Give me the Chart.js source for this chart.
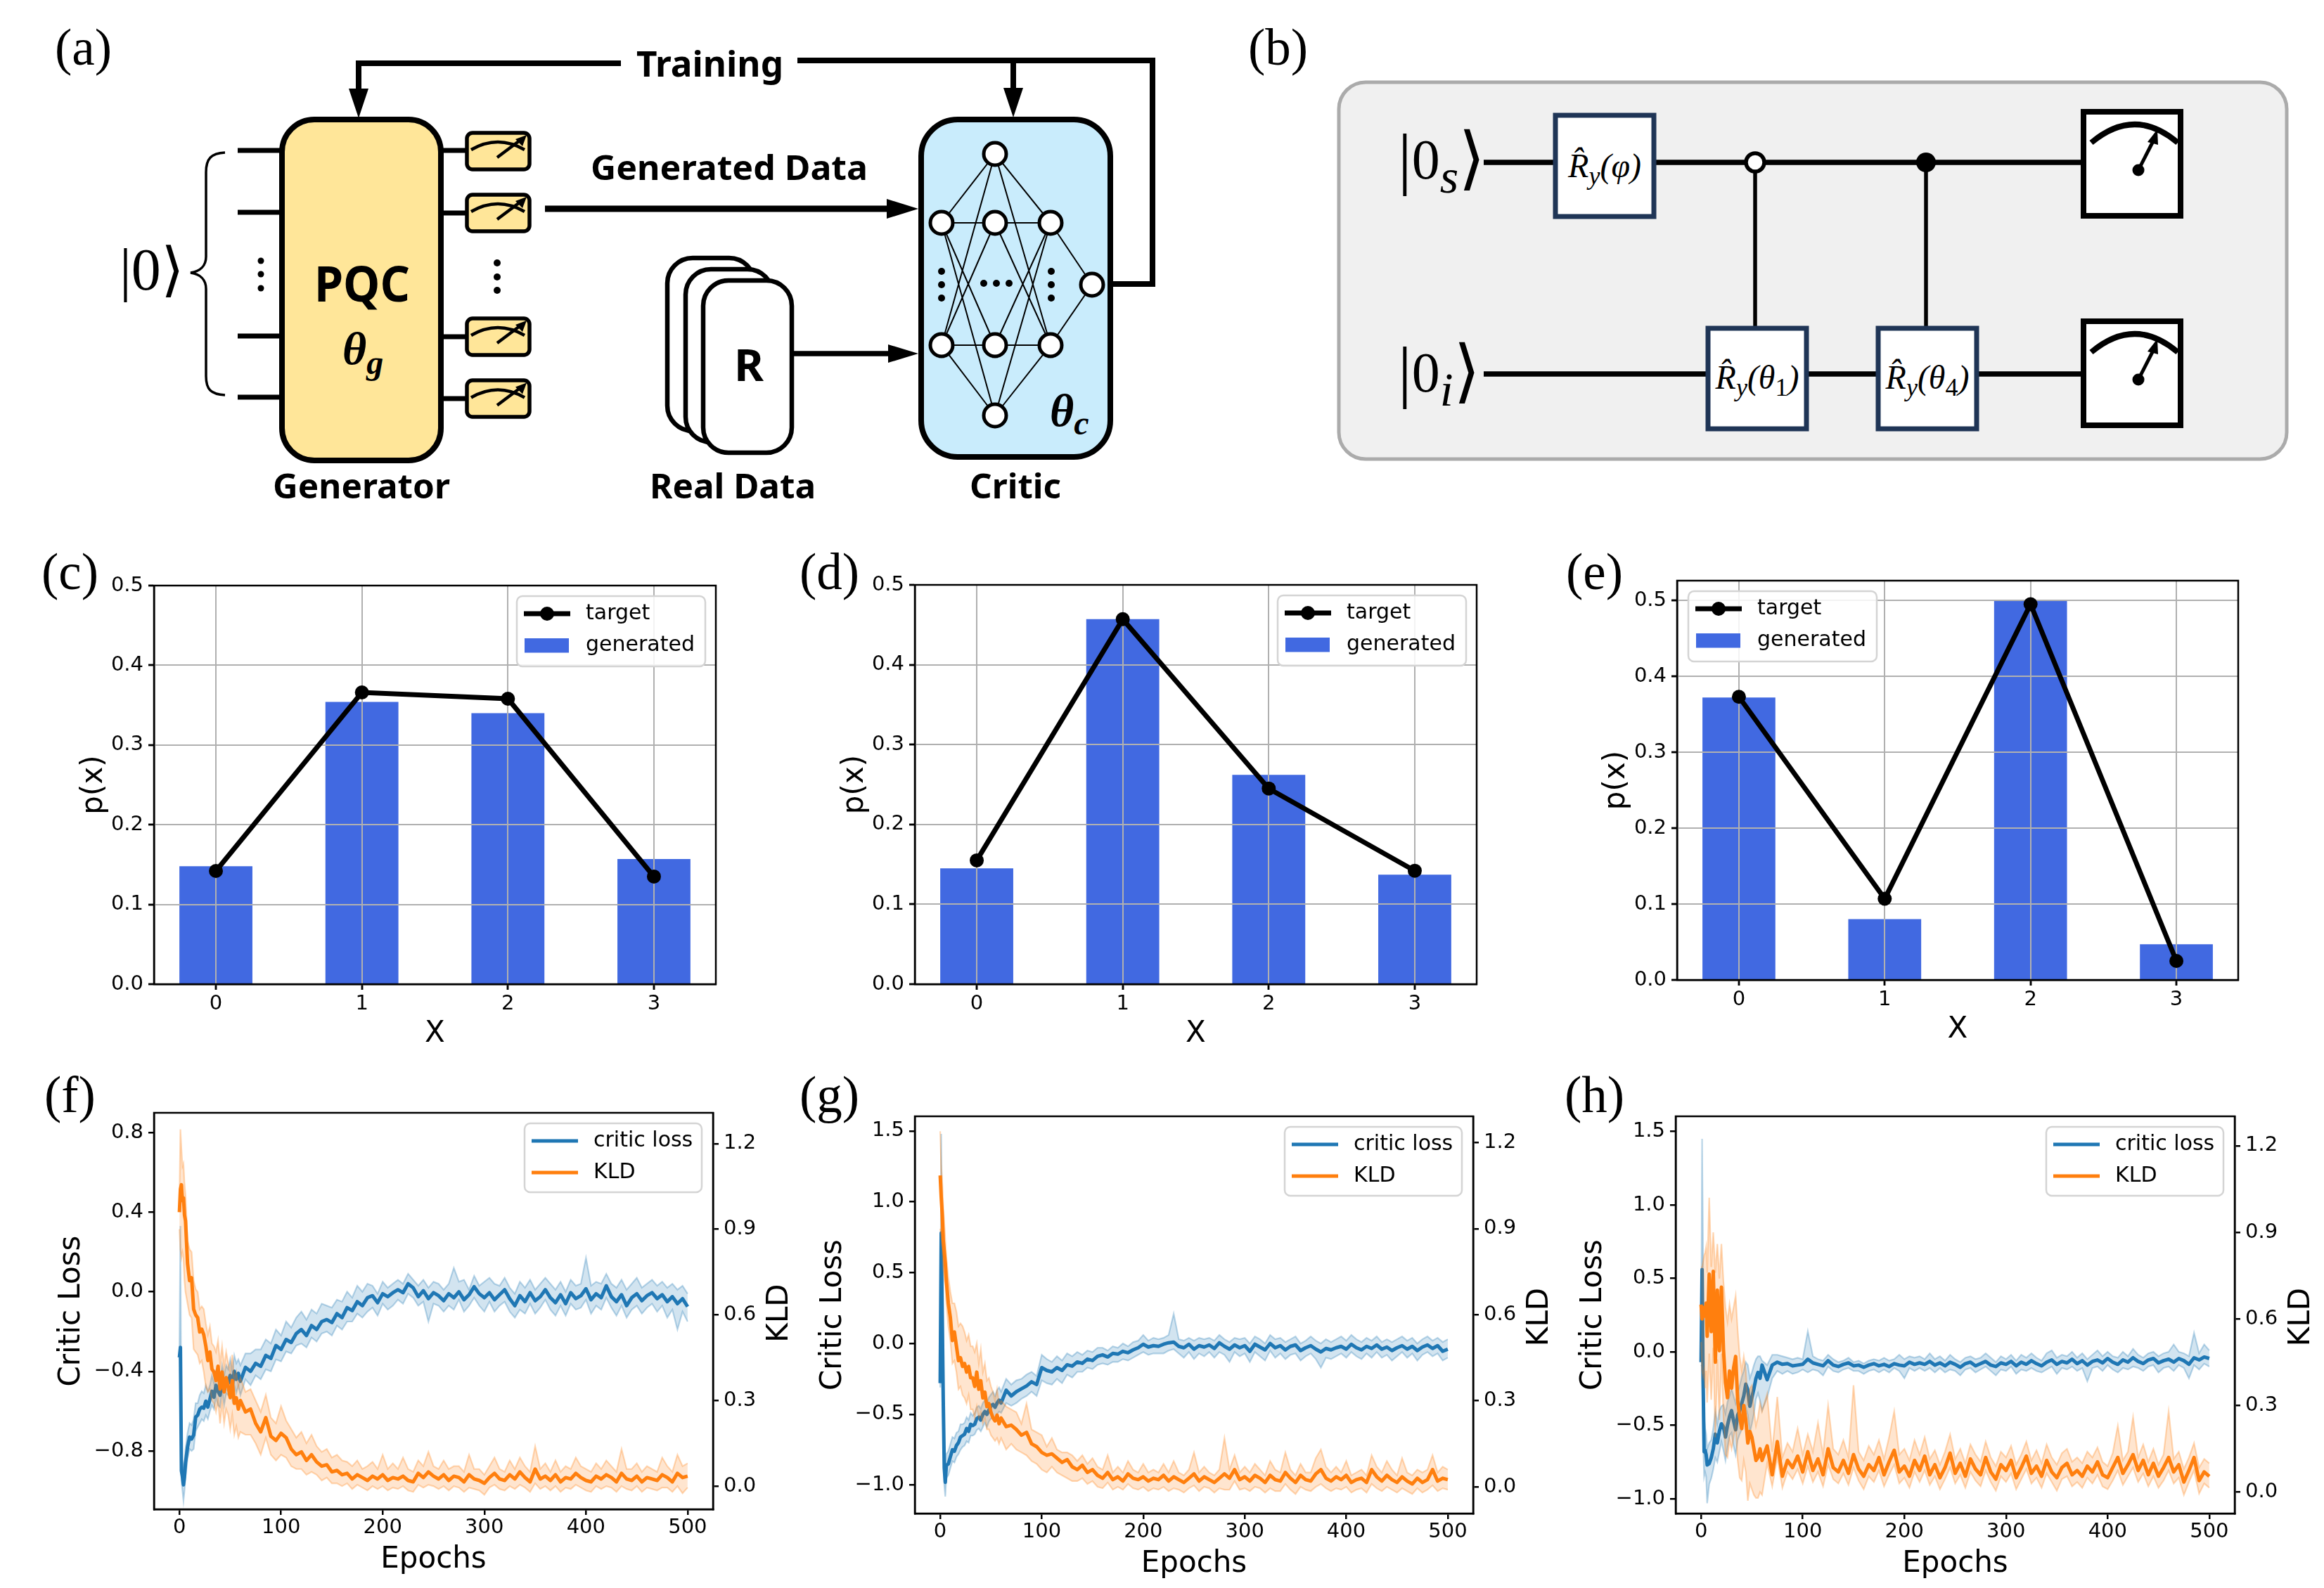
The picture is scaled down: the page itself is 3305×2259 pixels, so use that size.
<!DOCTYPE html>
<html>
<head>
<meta charset="utf-8">
<title>Quantum GAN figure</title>
<script src="https://cdn.jsdelivr.net/npm/chart.js@4/dist/chart.umd.js"></script>
<style>
html,body{margin:0;padding:0;background:#fff;}
#page{position:relative;width:3305px;height:2259px;overflow:hidden;background:#fff;}
canvas{position:absolute;}
svg{position:absolute;left:0;top:0;}
.lab{font-family:"Liberation Serif",serif;font-size:73px;fill:#000;}
.bold{font-family:"Noto Sans",sans-serif;font-weight:700;fill:#000;}
.gate{font-family:"Liberation Serif",serif;font-style:italic;font-size:48px;fill:#000;}
</style>
</head>
<body>
<div id="page">
<svg width="3305" height="2259" viewBox="0 0 3305 2259" xmlns="http://www.w3.org/2000/svg">
<defs>
<g id="mini"><path d="M670 213 Q708 191 746 213" fill="none" stroke="#000" stroke-width="4.5"/><path d="M707 224 L743 197" stroke="#000" stroke-width="4.5"/><path d="M749 192 L733 198 L743 208 Z" fill="#000"/></g>
<g id="big"><path d="M2974 203 Q3036 151 3097 203" fill="none" stroke="#000" stroke-width="8"/><path d="M3041 242 L3065 195" stroke="#000" stroke-width="5"/><path d="M3068 184 L3054 202 L3069 206 Z" fill="#000"/><circle cx="3041" cy="242" r="8.5" fill="#000"/></g>
</defs>
<text class="lab" x="78" y="92">(a)</text>
<text class="lab" x="1775" y="92">(b)</text>
<text class="lab" x="59" y="838">(c)</text>
<text class="lab" x="1137" y="838">(d)</text>
<text class="lab" x="2227" y="838">(e)</text>
<text class="lab" x="63" y="1582">(f)</text>
<text class="lab" x="1137" y="1582">(g)</text>
<text class="lab" x="2225" y="1582">(h)</text>

<!-- panel a -->
<path d="M883 90 H510 V135" fill="none" stroke="#000" stroke-width="8"/>
<path d="M510 168 L496 126 H524 Z" fill="#000"/>
<path d="M1134 86 H1639 V404 H1580" fill="none" stroke="#000" stroke-width="8"/>
<path d="M1441 86 V130" fill="none" stroke="#000" stroke-width="8"/>
<path d="M1441 167 L1427 125 H1455 Z" fill="#000"/>
<text class="bold" x="905" y="109" font-size="50" textLength="209" lengthAdjust="spacingAndGlyphs">Training</text>
<path d="M338 214 H405 M338 302 H405 M338 478 H405 M338 565 H405 M625 214 H665 M625 303 H665 M625 479 H665 M625 567 H665" stroke="#000" stroke-width="7"/>
<rect x="401" y="170" width="226" height="485" rx="46" fill="#FFE699" stroke="#000" stroke-width="8"/>
<path d="M320 217 C300 218 293 226 293 245 V365 C293 378 285 386 271 388 C285 390 293 398 293 411 V535 C293 554 300 561 320 562" fill="none" stroke="#000" stroke-width="3.5"/>
<text x="170" y="412" font-family="Liberation Serif" font-size="84" fill="#000">|0⟩</text>
<circle cx="371" cy="371" r="4.5"/><circle cx="371" cy="390" r="4.5"/><circle cx="371" cy="410" r="4.5"/>
<circle cx="707" cy="374" r="5"/><circle cx="707" cy="394" r="5"/><circle cx="707" cy="413" r="5"/>
<g fill="#FFE699" stroke="#000" stroke-width="5.5">
<rect x="664" y="189" width="89" height="52" rx="8"/>
<rect x="664" y="277" width="89" height="52" rx="8"/>
<rect x="664" y="453" width="89" height="52" rx="8"/>
<rect x="664" y="541" width="89" height="52" rx="8"/>
</g>
<use href="#mini"/><use href="#mini" y="88"/><use href="#mini" y="264"/><use href="#mini" y="352.5"/>
<text class="bold" x="447" y="429" font-size="70" textLength="136" lengthAdjust="spacingAndGlyphs">PQC</text>
<text x="487" y="518" font-family="Liberation Serif" font-style="italic" font-weight="700" font-size="66" fill="#000">θ<tspan font-size="48" dy="14">g</tspan></text>
<text class="bold" x="388" y="709" font-size="48" textLength="252" lengthAdjust="spacingAndGlyphs">Generator</text>
<text class="bold" x="924" y="709" font-size="48" textLength="236" lengthAdjust="spacingAndGlyphs">Real Data</text>
<text class="bold" x="1379" y="709" font-size="48" textLength="130" lengthAdjust="spacingAndGlyphs">Critic</text>
<text class="bold" x="840" y="256" font-size="48" textLength="394" lengthAdjust="spacingAndGlyphs">Generated Data</text>
<path d="M775 297 H1265" stroke="#000" stroke-width="9"/><path d="M1306 297 L1261 283 V311 Z" fill="#000"/>
<g fill="#fff" stroke="#000" stroke-width="6.5">
<rect x="949" y="367" width="124" height="246" rx="36"/>
<rect x="975" y="383" width="124" height="246" rx="36"/>
<rect x="1000" y="399" width="126" height="245" rx="36"/>
</g>
<text class="bold" x="1044" y="542" font-size="63" textLength="42" lengthAdjust="spacingAndGlyphs">R</text>
<path d="M1127 503 H1265" stroke="#000" stroke-width="7.5"/><path d="M1306 503 L1263 490 V516 Z" fill="#000"/>
<rect x="1310" y="170" width="269" height="480" rx="52" fill="#C9ECFC" stroke="#000" stroke-width="8"/>
<g stroke="#000" stroke-width="2">
<path d="M1339 317 L1415 219 M1339 317 L1415 317 M1339 317 L1415 491 M1339 317 L1415 591 M1339 491 L1415 219 M1339 491 L1415 317 M1339 491 L1415 491 M1339 491 L1415 591"/>
<path d="M1415 219 L1494 317 M1415 219 L1494 491 M1415 317 L1494 317 M1415 317 L1494 491 M1415 491 L1494 317 M1415 491 L1494 491 M1415 591 L1494 317 M1415 591 L1494 491"/>
<path d="M1494 317 L1553 405 M1494 491 L1553 405"/>
</g>
<g fill="#fff" stroke="#000" stroke-width="5">
<circle cx="1415" cy="219" r="16"/><circle cx="1339" cy="317" r="16"/><circle cx="1415" cy="317" r="16"/><circle cx="1494" cy="317" r="16"/>
<circle cx="1339" cy="491" r="16"/><circle cx="1415" cy="491" r="16"/><circle cx="1494" cy="491" r="16"/><circle cx="1415" cy="591" r="16"/><circle cx="1553" cy="405" r="16"/>
</g>
<circle cx="1339" cy="386" r="5"/><circle cx="1339" cy="405" r="5"/><circle cx="1339" cy="424" r="5"/>
<circle cx="1495" cy="386" r="5"/><circle cx="1495" cy="405" r="5"/><circle cx="1495" cy="424" r="5"/>
<circle cx="1399" cy="403" r="5"/><circle cx="1417" cy="403" r="5"/><circle cx="1435" cy="403" r="5"/>
<text x="1493" y="606" font-family="Liberation Serif" font-style="italic" font-weight="700" font-size="66" fill="#000">θ<tspan font-size="48" dy="12">c</tspan></text>

<!-- panel b -->
<rect x="1904" y="117" width="1348" height="536" rx="38" fill="#F0F0F0" stroke="#ABABAB" stroke-width="5"/>
<path d="M2110 231 H2961 M2110 532 H2961" stroke="#000" stroke-width="7.5"/>
<path d="M2496 231 V466 M2739 231 V466" stroke="#000" stroke-width="5.5"/>
<circle cx="2496" cy="231" r="13" fill="#fff" stroke="#000" stroke-width="5.5"/>
<circle cx="2739" cy="231" r="14" fill="#000"/>
<g fill="#fff" stroke="#1F3556" stroke-width="7">
<rect x="2212" y="164" width="140" height="144"/>
<rect x="2429" y="467" width="140" height="143"/>
<rect x="2671" y="467" width="140" height="143"/>
</g>
<g fill="#fff" stroke="#000" stroke-width="8">
<rect x="2963" y="159" width="138" height="148"/>
<rect x="2963" y="457" width="138" height="148"/>
</g>
<use href="#big"/><use href="#big" y="298"/>
<text x="1988" y="258" font-family="Liberation Serif" font-size="80" fill="#000"><tspan font-size="98">|</tspan><tspan dy="-4">0</tspan><tspan font-style="italic" font-size="68" dy="20">s</tspan><tspan font-size="98" dy="-16">⟩</tspan></text>
<text x="1988" y="561" font-family="Liberation Serif" font-size="80" fill="#000"><tspan font-size="98">|</tspan><tspan dy="-4">0</tspan><tspan font-style="italic" font-size="68" dy="20">i</tspan><tspan font-size="98" dy="-16">⟩</tspan></text>
<text class="gate" x="2282" y="252" text-anchor="middle">R̂<tspan font-size="36" dy="10">y</tspan><tspan dy="-10">(φ)</tspan></text>
<text class="gate" x="2499" y="553" text-anchor="middle">R̂<tspan font-size="36" dy="10">y</tspan><tspan dy="-10">(θ</tspan><tspan font-style="normal" font-size="36" dy="10">1</tspan><tspan dy="-10">)</tspan></text>
<text class="gate" x="2741" y="553" text-anchor="middle">R̂<tspan font-size="36" dy="10">y</tspan><tspan dy="-10">(θ</tspan><tspan font-style="normal" font-size="36" dy="10">4</tspan><tspan dy="-10">)</tspan></text>
</svg>
</div>
<script>
// ---------- data ----------
const xCats = [0,1,2,3];
const genC = [0.148,0.354,0.340,0.157];
const tgtC = [0.142,0.366,0.358,0.135];
const genD = [0.145,0.457,0.262,0.137];
const tgtD = [0.155,0.457,0.245,0.142];
const genE = [0.372,0.080,0.500,0.047];
const tgtE = [0.373,0.107,0.495,0.025];

const epochs = [0,1,2,3,4,5,6,
8,10,12,14,16,18,20,22,24,26,28,30,32,34,36,38,40,42,44,46,48,50,52,54,56,58,60,
65,70,75,80,85,90,95,100,105,110,115,120,125,130,135,140,145,150,155,160,165,170,175,180,185,190,195,200,205,210,
215,220,225,230,235,240,245,250,255,260,265,270,275,280,285,290,295,300,305,310,315,320,325,330,335,340,345,350,355,360,365,370,375,380,385,390,395,400,405,410,415,420,425,430,435,440,445,450,455,460,465,470,475,480,485,490,495,500];

// all curve values below are in thousandths
const critF = [-330,-280,-900,-930,-970,-930,-860,
-780,-730,-740,-720,-630,-620,-590,-580,-585,-550,-580,-540,-500,-530,-470,-500,-520,-440,-500,-450,-460,-420,-470,-400,-440,-410,-450,
-380,-400,-360,-375,-320,-335,-270,-290,-240,-255,-210,-190,-220,-170,-190,-150,-140,-155,-110,-130,-80,-95,-50,-70,-30,-20,-55,-10,-25,-5,
10,-5,40,20,-25,5,-35,-5,-20,-45,-10,-30,0,-40,-15,25,-10,-30,-5,-40,-15,10,-35,-70,-20,-50,-5,-45,-25,10,-30,-55,-15,-60,-5,-35,-20,15,-40,-10,-30,30,-25,-50,-15,-70,-30,-10,-45,-20,-5,-35,-15,-50,-25,-60,-35,-75];
const critFHi = [-300,330,-820,-860,-880,-860,-790,
-710,-660,-670,-640,-560,-560,-520,-500,-510,-470,-500,-470,-420,-460,-400,-420,-450,-370,-420,-370,-390,-340,-400,-320,-360,-340,-370,
-310,-310,-290,-290,-240,-260,-190,-220,-150,-180,-130,-100,-140,-90,-110,-60,-70,-80,-40,-50,0,-30,30,0,40,30,-10,50,20,40,
60,40,90,60,30,60,20,50,40,10,40,120,50,60,10,80,30,50,70,40,30,70,20,-10,50,20,60,10,40,70,40,10,50,0,60,30,40,170,30,50,40,90,40,20,60,10,40,70,20,40,60,30,50,20,40,10,30,-10];
const critFLo = [-340,-320,-950,-1000,-1050,-1000,-930,
-840,-790,-800,-790,-700,-680,-660,-640,-650,-620,-640,-600,-570,-590,-530,-570,-580,-500,-570,-510,-520,-480,-540,-470,-510,-470,-520,
-440,-470,-420,-440,-390,-400,-340,-350,-300,-310,-270,-260,-280,-230,-250,-210,-200,-220,-170,-190,-150,-150,-110,-130,-100,-80,-120,-60,-90,-70,
-40,-60,-10,-30,-70,-50,-150,-60,-70,-100,-70,-90,-40,-100,-70,-30,-70,-100,-50,-100,-70,-50,-100,-130,-90,-110,-60,-110,-80,-40,-90,-120,-70,-120,-60,-90,-80,-40,-110,-70,-90,-30,-80,-120,-70,-130,-90,-70,-110,-80,-60,-100,-70,-130,-90,-190,-100,-150];
const kldF = [960,1040,1056,1000,1010,950,930,
780,720,730,620,600,590,540,550,530,490,440,470,410,400,370,420,340,400,330,380,350,310,370,290,310,270,300,
260,270,220,190,240,175,160,185,170,130,110,120,90,110,85,70,75,50,55,40,45,25,40,30,20,35,25,40,20,30,
25,35,20,15,45,30,50,35,25,40,20,35,30,15,40,25,20,10,30,45,25,20,40,25,50,30,15,60,25,35,20,40,15,30,25,45,30,20,15,35,25,40,30,15,45,25,20,35,15,30,25,20,40,30,15,45,30,35];
const kldFHi = [1000,1250,1180,1120,1130,1060,1020,
860,830,820,720,690,680,620,630,620,570,530,560,500,490,470,510,430,490,420,470,430,400,460,370,400,350,380,
330,340,300,260,320,240,220,280,230,200,170,190,150,180,140,120,130,100,110,90,85,70,90,60,70,85,60,110,60,80,
60,100,60,50,90,70,120,70,60,90,60,70,70,50,110,60,60,40,70,100,60,50,90,60,100,70,50,140,60,80,50,90,50,70,60,100,70,60,50,80,60,90,70,50,130,60,60,80,50,70,60,50,100,70,50,110,70,80];
const kldFLo = [900,830,800,820,800,720,680,
640,600,590,480,470,460,430,440,400,350,330,340,300,290,260,300,220,290,220,270,250,200,250,180,210,170,190,
180,180,150,110,170,110,90,110,100,70,60,60,40,50,40,20,30,10,10,0,10,-10,5,-5,-15,0,-10,0,-15,-5,
-10,0,-15,-20,5,-5,5,0,-10,0,-15,0,-5,-20,-5,-10,-15,-30,-5,5,-10,-15,0,-10,5,-5,-20,10,-10,0,-15,0,-20,-5,-10,5,-5,-15,-20,0,-10,0,-5,-20,0,-10,-15,0,-20,-5,-10,-15,-5,-5,-20,0,-25,-5];

const critG = [-280,780,200,-400,-880,-980,-860,
-850,-800,-750,-760,-720,-700,-660,-650,-640,-600,-620,-570,-580,-570,-530,-520,-540,-500,-480,-500,-470,-440,-430,-450,-420,-400,-420,
-330,-370,-340,-320,-300,-270,-290,-170,-190,-200,-170,-190,-150,-160,-130,-140,-110,-120,-90,-80,-95,-70,-75,-55,-65,-45,-30,-5,-25,-15,
-20,-5,5,10,-20,-30,-5,-40,-15,-25,-10,-35,5,-20,-40,-10,-30,-15,-55,-5,-25,-45,0,-30,-15,-45,-20,-10,-50,-30,-15,-40,-60,-35,-45,-30,-20,-40,-5,-30,-45,-20,-35,-10,-40,-25,-50,-30,-15,-40,-20,-50,-25,-10,-35,-15,-55,-40];
const critGHi = [-250,1480,700,-100,-760,-880,-780,
-760,-710,-660,-670,-630,-620,-570,-570,-560,-520,-540,-490,-510,-490,-450,-440,-460,-420,-400,-420,-380,-360,-340,-370,-330,-310,-340,
-250,-290,-260,-250,-220,-200,-230,-80,-110,-130,-90,-120,-70,-90,-60,-80,-50,-60,-30,-30,-50,-20,-30,0,-20,10,20,60,20,40,
30,40,60,210,30,20,40,20,40,30,40,20,60,30,10,40,30,40,0,50,30,0,60,30,40,10,30,50,0,20,50,20,0,30,10,30,50,20,60,30,10,40,20,50,10,30,10,30,50,20,40,0,30,50,20,40,10,30];
const critGLo = [-310,100,-300,-700,-1000,-1080,-950,
-930,-880,-830,-840,-800,-780,-750,-730,-720,-690,-700,-650,-650,-640,-610,-600,-620,-590,-560,-590,-550,-530,-520,-530,-500,-480,-490,
-420,-440,-420,-390,-370,-340,-370,-260,-280,-290,-250,-280,-220,-240,-200,-200,-170,-180,-150,-140,-150,-130,-130,-110,-120,-100,-80,-60,-80,-70,
-70,-70,-50,-40,-70,-100,-60,-110,-70,-90,-60,-100,-60,-80,-130,-60,-90,-70,-130,-60,-90,-120,-50,-100,-70,-110,-80,-70,-120,-90,-70,-110,-170,-100,-110,-90,-70,-100,-60,-90,-110,-70,-100,-60,-100,-80,-120,-90,-60,-100,-70,-120,-80,-60,-90,-70,-120,-100];
const kldG = [1086,1010,950,860,820,780,720,
640,590,510,540,490,440,450,420,430,400,420,380,380,350,400,340,370,310,330,280,290,260,240,230,250,220,240,
210,215,200,180,190,150,140,120,110,115,100,85,95,70,60,75,50,60,40,30,50,25,35,20,45,30,25,35,20,30,
25,40,20,35,25,15,30,45,20,35,25,15,30,45,30,60,25,35,20,40,30,15,40,25,20,50,30,15,40,25,20,45,60,30,20,35,25,40,15,25,30,15,60,35,20,40,25,15,35,20,10,30,15,25,60,20,30,25];
const kldGHi = [1240,1120,1060,970,920,860,800,
730,680,640,640,610,560,570,560,540,510,530,490,490,470,500,430,480,400,430,370,380,350,330,300,340,290,300,
280,270,260,220,290,200,190,180,140,170,130,120,120,110,90,110,80,100,70,60,110,50,70,50,90,60,50,80,50,60,
50,80,50,90,50,40,60,120,50,70,50,40,60,170,60,110,50,70,50,80,60,40,90,60,50,120,60,40,80,50,50,100,130,70,50,70,50,90,40,50,60,40,110,70,50,90,60,40,100,50,40,60,50,60,110,50,70,60];
const kldGLo = [900,880,830,760,730,700,640,
560,510,430,440,400,340,350,320,310,290,320,270,270,240,280,240,260,220,240,200,200,180,170,160,170,150,170,
130,150,130,120,110,90,80,60,50,70,50,40,30,20,20,30,10,20,0,-5,15,-10,0,-10,10,-5,-10,0,-15,-5,
-10,0,-15,-5,-10,-20,-5,5,-15,0,-5,-20,-5,-10,-10,20,-10,-5,-15,0,-5,-20,-5,-15,-15,10,-10,-25,0,-10,-15,0,10,-5,-15,-5,-10,0,-20,-10,-5,-20,10,-5,-15,0,-10,-20,-5,-15,-25,-5,-20,-10,5,-15,-5,-10];

const critH = [-70,560,-200,-680,-670,-700,-770,
-760,-720,-660,-560,-620,-540,-490,-510,-580,-500,-440,-400,-470,-530,-430,-400,-350,-300,-220,-260,-370,-310,-250,-180,-140,-180,-90,
-190,-90,-70,-85,-80,-95,-90,-85,-50,-75,-85,-95,-60,-90,-100,-85,-75,-95,-90,-105,-90,-80,-95,-85,-100,-80,-90,-95,-70,-85,
-75,-85,-65,-90,-75,-95,-70,-85,-105,-80,-70,-95,-80,-65,-90,-100,-75,-85,-65,-95,-70,-85,-60,-80,-95,-70,-55,-85,-65,-75,-50,-80,-60,-90,-65,-55,-75,-45,-70,-85,-55,-70,-40,-65,-80,-55,-45,-75,-60,-50,-70,-45,-60,-85,-40,-55,-35,-45];
const critHHi = [-50,1450,600,-450,-520,-560,-660,
-620,-600,-520,-400,-490,-400,-370,-360,-420,-340,-300,-250,-300,-350,-280,-230,-170,-130,-70,-90,-180,-140,-90,-50,-30,-30,-60,
-90,-20,-20,-30,-40,-50,-40,-50,140,-30,-50,-60,-20,-50,-70,-60,-40,-70,-60,-80,-60,-50,-60,-40,-60,-50,-20,-50,-30,-40,
-30,-50,-10,-50,-30,-60,-20,-50,-70,-40,-30,-50,-40,-10,-40,-70,-30,-50,-20,-60,-20,-40,-10,-40,-60,-10,10,-40,-20,-30,0,-40,-10,-50,-20,10,-30,0,-30,-40,0,-30,20,-20,-40,-10,0,-30,-10,0,50,0,-10,-30,130,-10,50,10];
const critHLo = [-90,-100,-600,-850,-820,-850,-1030,
-900,-860,-800,-720,-750,-680,-610,-670,-740,-650,-570,-550,-640,-700,-600,-560,-530,-480,-380,-430,-550,-490,-420,-320,-280,-330,-400,
-310,-180,-130,-150,-130,-150,-140,-120,-140,-120,-130,-160,-100,-130,-140,-120,-110,-130,-130,-150,-130,-120,-140,-120,-140,-110,-130,-180,-110,-130,
-110,-130,-110,-140,-110,-140,-120,-130,-160,-120,-110,-140,-120,-100,-130,-160,-120,-130,-100,-150,-120,-130,-110,-130,-140,-120,-100,-150,-110,-120,-100,-130,-110,-200,-110,-100,-130,-90,-120,-140,-110,-120,-100,-110,-130,-100,-90,-140,-110,-100,-130,-90,-110,-180,-90,-120,-80,-100];
const kldH = [650,600,620,640,610,655,540,
755,556,765,450,700,490,710,495,380,327,420,360,430,470,320,260,220,300,250,170,210,190,150,110,120,150,110,
160,60,175,55,110,85,125,70,140,75,115,60,150,85,70,110,65,130,80,55,95,75,120,60,105,145,70,90,55,110,
75,125,60,95,50,85,135,65,100,55,115,80,60,120,70,45,95,75,110,50,85,125,65,90,55,110,70,50,85,100,60,75,55,90,70,105,60,50,85,120,65,95,130,75,110,60,100,55,85,120,70,95,35,75,120,40,70,55];
const kldHHi = [780,780,800,820,830,850,760,
1020,780,900,760,860,740,860,730,640,590,650,600,640,680,560,470,420,470,420,300,360,370,280,230,260,310,280,
340,140,330,120,170,140,220,130,200,140,240,130,300,150,130,180,120,370,140,110,160,130,180,115,190,280,130,150,110,180,
130,190,115,145,95,140,200,115,150,100,165,130,105,175,120,90,140,120,160,95,130,175,110,145,100,165,120,95,135,150,105,120,100,140,120,155,105,90,135,230,110,140,260,120,165,105,150,95,130,280,115,140,80,120,170,85,115,100];
const kldHLo = [520,420,400,420,360,420,310,
480,320,500,190,460,250,480,260,130,120,180,150,190,230,110,50,40,110,70,-30,30,10,-10,-20,-20,0,-10,
100,20,120,15,70,45,80,30,90,35,70,20,95,45,30,65,25,85,40,10,55,35,75,20,60,95,30,50,15,70,
35,75,25,55,10,45,85,30,60,15,70,40,20,75,35,5,55,35,65,10,45,80,30,50,15,65,35,5,45,55,20,35,15,50,30,60,20,10,40,75,25,55,85,35,65,20,55,15,40,75,30,50,-10,35,75,-5,30,15];

// ---------- helpers ----------
const FONT = '"DejaVu Sans", sans-serif';
const BLUE = '#1f77b4', ORANGE = '#ff7f0e';
const pts = (xs, ys, k=1) => ys.map((v,i)=>({x:xs[i], y:v*k}));
const fmt1 = v => { const s = Math.abs(v).toFixed(1); return v < -1e-9 ? '\u2212'+s : s; };
const page = document.getElementById('page');

function makeCanvas(l,t,w,h){
  const c=document.createElement('canvas');
  c.width=w;c.height=h;
  c.style.left=l+'px';c.style.top=t+'px';c.style.width=w+'px';c.style.height=h+'px';
  page.appendChild(c);
  return c;
}
function roundRect(ctx,x,y,w,h,r){
  ctx.beginPath();ctx.moveTo(x+r,y);ctx.arcTo(x+w,y,x+w,y+h,r);ctx.arcTo(x+w,y+h,x,y+h,r);ctx.arcTo(x,y+h,x,y,r);ctx.arcTo(x,y,x+w,y,r);ctx.closePath();
}
const framePlugin = {
  id:'frame',
  afterDraw(chart){
    const {ctx,chartArea:a}=chart;
    ctx.save();ctx.strokeStyle='#000';ctx.lineWidth=2.5;
    ctx.strokeRect(a.left,a.top,a.right-a.left,a.bottom-a.top);ctx.restore();
  }
};
const gridOverBars = {
  id:'gridOverBars',
  beforeDatasetDraw(chart,args){
    if(args.meta.type==='line'){
      chart.scales.x.drawGrid(chart.chartArea);
      chart.scales.y.drawGrid(chart.chartArea);
    }
  }
};
function legendPlugin(o){
  return {
    id:'frameLegend',
    afterDraw(chart){
      const {ctx,chartArea:a}=chart;
      const x0 = o.side==='left' ? a.left+16 : a.right-o.dx-o.w;
      const y0 = a.top+15;
      ctx.save();
      roundRect(ctx,x0,y0,o.w,o.h,8);
      ctx.fillStyle='rgba(255,255,255,0.85)';ctx.fill();
      ctx.strokeStyle='#d4d4d4';ctx.lineWidth=2.5;ctx.stroke();
      ctx.font='30px '+FONT;ctx.textBaseline='middle';ctx.textAlign='left';
      o.items.forEach((it,i)=>{
        const y=y0+25+45*i;
        if(it.kind==='bar'){ctx.fillStyle=it.color;ctx.fillRect(x0+11,y-10,63,20.5);}
        else{
          ctx.strokeStyle=it.color;ctx.lineWidth=it.kind==='marker'?7:5;
          ctx.beginPath();ctx.moveTo(x0+10,y);ctx.lineTo(x0+76,y);ctx.stroke();
          if(it.kind==='marker'){ctx.fillStyle=it.color;ctx.beginPath();ctx.arc(x0+43,y,10,0,Math.PI*2);ctx.fill();}
        }
        ctx.fillStyle='#000';ctx.fillText(it.label,x0+98,y);
      });
      ctx.restore();
    }
  };
}
const rightTitle = {
  id:'rightTitle',
  afterDraw(chart){
    const {ctx,chartArea:a}=chart;
    ctx.save();ctx.translate(a.right+95,(a.top+a.bottom)/2+3);ctx.rotate(-Math.PI/2);
    ctx.font='42px '+FONT;ctx.fillStyle='#000';ctx.textAlign='center';ctx.textBaseline='middle';
    ctx.fillText('KLD',0,0);ctx.restore();
  }
};
const tickFont = {family:FONT,size:29};
const titleFont = {family:FONT,size:42};
const PADT=30;

function barChart(box,gen,tgt,yMax,legendSide){
  const W=box.yw, H=96, PR=14;
  const c=makeCanvas(box.L-W,box.T-PADT,box.R-box.L+W+PR,box.B-box.T+PADT+H);
  const xmin=box.xmin, xmax=box.xmax;
  return new Chart(c,{
    type:'bar',
    data:{datasets:[
      {type:'line',label:'target',data:pts(xCats,tgt),borderColor:'#000',backgroundColor:'#000',borderWidth:7,pointRadius:10,pointBackgroundColor:'#000',pointBorderWidth:0,tension:0,order:1,fill:false},
      {type:'bar',label:'generated',data:pts(xCats,gen),backgroundColor:'#4169E1',barPercentage:0.5,categoryPercentage:1,order:2}
    ]},
    options:{
      responsive:false,animation:false,devicePixelRatio:1,
      layout:{padding:{top:PADT,right:PR,left:0,bottom:0}},
      plugins:{legend:{display:false},tooltip:{enabled:false}},
      scales:{
        x:{type:'linear',min:xmin,max:xmax,offset:false,
          grid:{offset:false,color:'#b0b0b0',lineWidth:2,tickColor:'#000',tickWidth:2.5,tickLength:8},
          border:{color:'#000',width:2.5},
          ticks:{stepSize:1,includeBounds:false,color:'#000',font:tickFont,padding:3,maxRotation:0,autoSkip:false,callback:v=>String(v)},
          title:{display:true,text:'X',color:'#000',font:titleFont,padding:{top:0,bottom:0}},
          afterFit:s=>{s.height=H;}},
        y:{type:'linear',min:0,max:yMax,
          grid:{color:'#b0b0b0',lineWidth:2,tickColor:'#000',tickWidth:2.5,tickLength:8},
          border:{color:'#000',width:2.5},
          ticks:{stepSize:0.1,includeBounds:false,color:'#000',font:tickFont,padding:7,callback:fmt1},
          title:{display:true,text:'p(x)',color:'#000',font:titleFont,padding:{top:0,bottom:0}},
          afterFit:s=>{s.width=W;}}
      }
    },
    plugins:[gridOverBars,framePlugin,legendPlugin({side:legendSide,dx:15,w:268,h:100,items:[{kind:'marker',color:'#000',label:'target'},{kind:'bar',color:'#4169E1',label:'generated'}]})]
  });
}

function lineChart(box,cr,crHi,crLo,kl,klHi,klLo){
  const W=box.yw,H=97,RW=120;
  const c=makeCanvas(box.L-W,box.T-PADT,box.R-box.L+W+RW,box.B-box.T+PADT+H);
  const k=0.001;
  const band=(rgb,data,yId,fill,order)=>({type:'line',data:pts(epochs,data,k),yAxisID:yId,borderColor:`rgba(${rgb},0.3)`,backgroundColor:`rgba(${rgb},0.2)`,borderWidth:2.2,pointRadius:0,tension:0,fill,order});
  const main=(col,data,yId,order)=>({type:'line',data:pts(epochs,data,k),yAxisID:yId,borderColor:col,borderWidth:5,pointRadius:0,tension:0,fill:false,order,borderJoinStyle:'round'});
  return new Chart(c,{
    type:'line',
    data:{datasets:[
      main(ORANGE,kl,'y2',1),
      band('255,127,14',klHi,'y2','+1',2),
      band('255,127,14',klLo,'y2',false,3),
      main(BLUE,cr,'y',4),
      band('31,119,180',crHi,'y','+1',5),
      band('31,119,180',crLo,'y',false,6)
    ]},
    options:{
      responsive:false,animation:false,devicePixelRatio:1,
      layout:{padding:{top:PADT,right:0,left:0,bottom:0}},
      plugins:{legend:{display:false},tooltip:{enabled:false}},
      scales:{
        x:{type:'linear',min:-25,max:525,
          grid:{drawOnChartArea:false,color:'#000',tickColor:'#000',tickWidth:2.5,lineWidth:2.5,tickLength:8},
          border:{color:'#000',width:2.5},
          ticks:{stepSize:100,includeBounds:false,color:'#000',font:tickFont,padding:1,maxRotation:0,autoSkip:false,callback:v=>String(v)},
          title:{display:true,text:'Epochs',color:'#000',font:titleFont,padding:{top:0,bottom:0}},
          afterFit:s=>{s.height=H;}},
        y:{type:'linear',position:'left',min:box.y1[0],max:box.y1[1],
          grid:{drawOnChartArea:false,color:'#000',tickColor:'#000',tickWidth:2.5,lineWidth:2.5,tickLength:8},
          border:{color:'#000',width:2.5},
          ticks:{stepSize:box.y1[2],includeBounds:false,color:'#000',font:tickFont,padding:7,callback:fmt1},
          title:{display:true,text:'Critic Loss',color:'#000',font:titleFont,padding:{top:0,bottom:0}},
          afterFit:s=>{s.width=W;}},
        y2:{type:'linear',position:'right',min:box.y2[0],max:box.y2[1],
          grid:{drawOnChartArea:false,color:'#000',tickColor:'#000',tickWidth:2.5,lineWidth:2.5,tickLength:8},
          border:{color:'#000',width:2.5},
          ticks:{stepSize:0.3,includeBounds:false,color:'#000',font:tickFont,padding:7,callback:fmt1},
          afterFit:s=>{s.width=RW;}}
      }
    },
    plugins:[framePlugin,rightTitle,legendPlugin({side:'right',dx:16,w:252,h:98,items:[{kind:'line',color:BLUE,label:'critic loss'},{kind:'line',color:ORANGE,label:'KLD'}]})]
  });
}

barChart({L:219,R:1018,T:833,B:1400,yw:110,xmin:-0.424,xmax:3.424},genC,tgtC,0.5,'right');
barChart({L:1301,R:2100,T:832,B:1400,yw:110,xmin:-0.424,xmax:3.424},genD,tgtD,0.5,'right');
barChart({L:2385,R:3183,T:826,B:1394,yw:111,xmin:-0.424,xmax:3.424},genE,tgtE,0.526,'left');
lineChart({L:219,R:1014,T:1583,B:2147,yw:142,y1:[-1.093,0.899,0.4],y2:[-0.081,1.308]},critF,critFHi,critFLo,kldF,kldFHi,kldFLo);
lineChart({L:1301,R:2095,T:1588,B:2153,yw:141,y1:[-1.2,1.604,0.5],y2:[-0.093,1.292]},critG,critGHi,critGLo,kldG,kldGHi,kldGLo);
lineChart({L:2383,R:3178,T:1588,B:2153,yw:142,y1:[-1.1,1.603,0.5],y2:[-0.074,1.302]},critH,critHHi,critHLo,kldH,kldHHi,kldHLo);
</script>
</body>
</html>
